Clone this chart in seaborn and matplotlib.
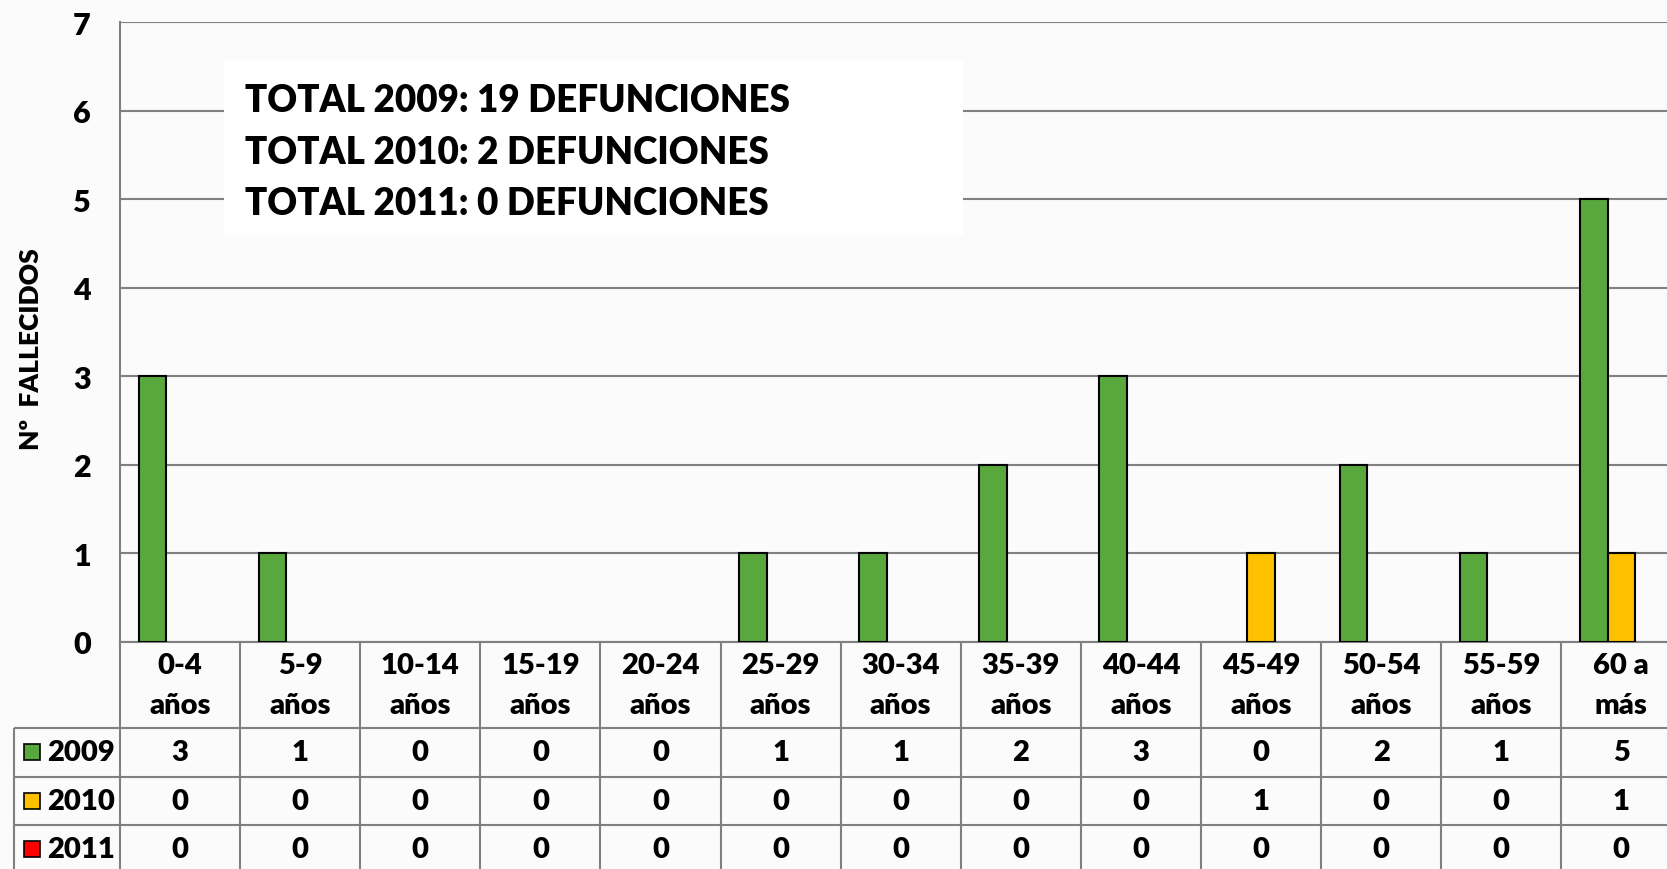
import numpy as np
import pandas as pd
import seaborn as sns
import matplotlib.pyplot as plt
from matplotlib.patches import Rectangle

# Datos: fallecidos por grupo de edad
grupos = ['0-4\naños', '5-9\naños', '10-14\naños', '15-19\naños', '20-24\naños',
          '25-29\naños', '30-34\naños', '35-39\naños', '40-44\naños', '45-49\naños',
          '50-54\naños', '55-59\naños', '60 a\nmás']
anios = ['2009', '2010', '2011']
v2009 = [3, 1, 0, 0, 0, 1, 1, 2, 3, 0, 2, 1, 5]
v2010 = [0, 0, 0, 0, 0, 0, 0, 0, 0, 1, 0, 0, 1]
v2011 = [0, 0, 0, 0, 0, 0, 0, 0, 0, 0, 0, 0, 0]
totales = [19, 2, 0]
colores = ['#58A83E', '#FFC000', '#FF0000']

df = pd.DataFrame({'grupo': grupos * 3,
                   'anio': np.repeat(anios, len(grupos)),
                   'valor': v2009 + v2010 + v2011})

sns.set_style('white')
plt.rcParams['font.family'] = ['Lato', 'DejaVu Sans']
plt.rcParams['font.weight'] = 'heavy'
plt.rcParams['text.color'] = 'black'
plt.rcParams['axes.labelcolor'] = 'black'
plt.rcParams['ytick.color'] = 'black'

W, H = 1667, 870
bg = '#fbfbfb'
gris = '#808080'
peso = 'heavy'
fig = plt.figure(figsize=(W / 100, H / 100), dpi=100)
fig.patch.set_facecolor(bg)

ax = fig.add_axes([120 / W, 1 - 643 / H, 1547 / W, (643 - 23.4) / H])
ax.set_facecolor(bg)
sns.barplot(data=df, x='grupo', y='valor', hue='anio', palette=colores, width=0.69,
            saturation=1, edgecolor='black', linewidth=1.5, legend=False, ax=ax, zorder=3)
for p in ax.patches:
    if p.get_height() == 0:
        p.set_visible(False)

ax.set_ylim(0, 7)
ax.set_yticks(range(8))
ax.set_xlim(-0.5, 12.38)
ax.set_xticks([])
ax.set_xlabel('')
ax.grid(axis='y', color=gris, lw=1.5)
ax.set_axisbelow(True)
ax.tick_params(axis='y', length=0, pad=21, labelsize=22)
for lb in ax.get_yticklabels():
    lb.set_fontweight(peso)
for s in ['top', 'right']:
    ax.spines[s].set_visible(False)
for s in ['left', 'bottom']:
    ax.spines[s].set_color(gris)
    ax.spines[s].set_linewidth(1.5)
ax.set_ylabel('Nº  FALLECIDOS', fontsize=19, fontweight=peso)
ax.yaxis.set_label_coords(-0.05, 0.475)

# cuadro de totales
ax.add_patch(Rectangle((0.0672, 0.657), 0.478, 0.282, transform=ax.transAxes,
                       facecolor='white', edgecolor='none', zorder=2))
for k, (a, t) in enumerate(zip(anios, totales)):
    ax.text(0.081, 0.875 - k * 0.0835, f'TOTAL {a}: {t} DEFUNCIONES', transform=ax.transAxes,
            fontsize=26.5, fontweight=peso, ha='left', va='center', zorder=4)

# tabla de datos
tab = fig.add_axes([120 / W, 0, 1547 / W, (H - 643) / H])
tab.set_xlim(ax.get_xlim())
tab.set_ylim(-4.69, 0)
tab.axis('off')
xl = -1.383
hdr = 1.78
n = len(grupos)
tab.vlines([i - 0.5 for i in range(n + 1)], -4.69, 0, color=gris, lw=1.5, clip_on=False)
tab.vlines([xl], -4.69, -hdr, color=gris, lw=1.5, clip_on=False)
tab.hlines([-hdr - r for r in range(3)], xl, n - 0.5, color=gris, lw=1.5, clip_on=False)
for i, g in enumerate(grupos):
    tab.text(i, -hdr / 2, g, ha='center', va='center', fontsize=21, fontweight=peso,
             linespacing=1.65)
for r, (a, vals, c) in enumerate(zip(anios, [v2009, v2010, v2011], colores)):
    y = -hdr - 0.5 - r
    tab.plot([xl + 0.15], [y], marker='s', markersize=12, color=c, mec='black', mew=1.2,
             clip_on=False)
    tab.text(xl + 0.28, y, a, ha='left', va='center', fontsize=21, fontweight=peso, clip_on=False)
    for i, v in enumerate(vals):
        tab.text(i, y, str(v), ha='center', va='center', fontsize=21, fontweight=peso)

fig.savefig('out.png', dpi=100, facecolor=bg)
